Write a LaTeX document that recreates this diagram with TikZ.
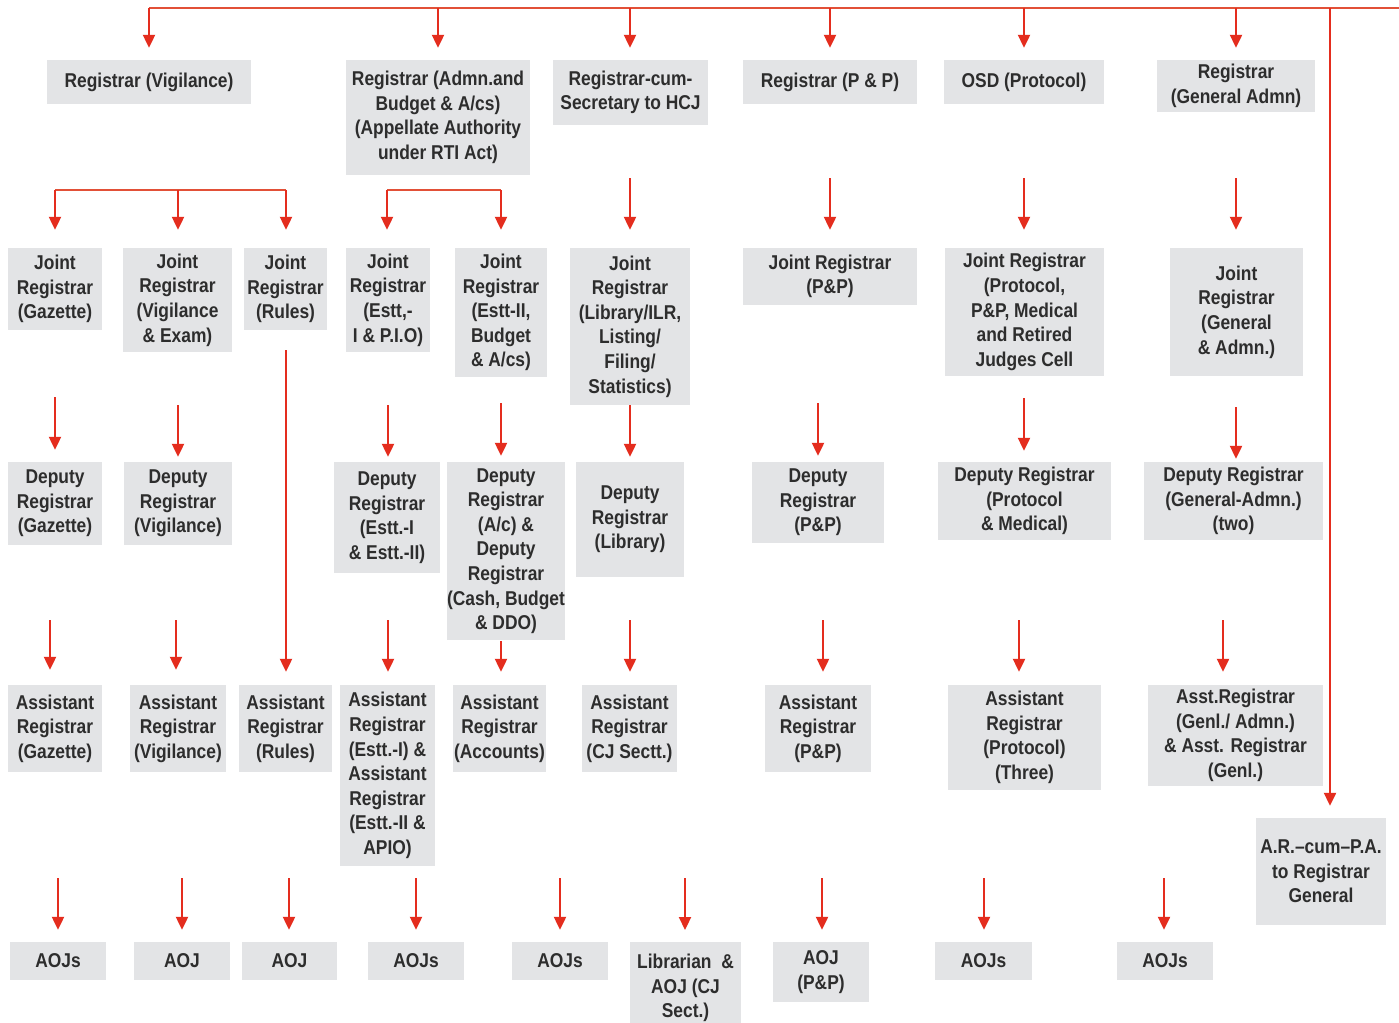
\documentclass[tikz,border=0pt]{standalone}
\usepackage{fontspec}
\setmainfont{Liberation Sans}[FakeStretch=0.87]
\usetikzlibrary{arrows.meta}
\definecolor{ared}{RGB}{228,45,30}
\definecolor{lred}{RGB}{226,80,55}
\definecolor{boxg}{RGB}{227,228,230}
\definecolor{txt}{RGB}{45,45,45}
\newcommand\bx[6]{\node[box, minimum width={#4-#2}, minimum height={#5-#3}] (#1) at ({(#2+#4)/2},{(#3+#5)/2}) {#6};}
% arrow at x=#1 starting at y=#2, ending #4pt above node #3
\newcommand\dn[4]{\draw[arr] (#1,#2) -- ([yshift=#4pt]#3.north -| #1,0);}
\begin{document}
\begin{tikzpicture}[x=1pt,y=-1pt,
 box/.style={fill=boxg, inner sep=0pt, align=center, text=txt, font=\fontsize{20}{24.6}\selectfont\bfseries},
 arr/.style={ared, line width=2.2pt, -{Triangle[width=12pt,length=13pt]}},
 bar/.style={lred, line width=2.2pt}]
\useasboundingbox (0,0) rectangle (1399,1022);
\fill[white] (0,0) rectangle (1399,1022);

% Row 1
\bx{vig}{47}{60}{251}{104}{Registrar (Vigilance)}
\bx{adm}{346}{60}{530}{175}{Registrar (Admn.and\\Budget \& A/cs)\\(Appellate Authority\\under RTI Act)}
\bx{hcj}{553}{60}{708}{125}{Registrar-cum-\\Secretary to HCJ}
\bx{pp}{743}{60}{917}{104}{Registrar (P \& P)}
\bx{osd}{944}{60}{1104}{104}{OSD (Protocol)}
\bx{gen}{1157}{60}{1315}{112}{Registrar\\(General Admn)}

% Row 2
\bx{jg}{8}{248}{102}{330}{Joint\\Registrar\\(Gazette)}
\bx{jv}{123}{248}{232}{352}{Joint\\Registrar\\(Vigilance\\\& Exam)}
\bx{jr}{244}{248}{327}{330}{Joint\\Registrar\\(Rules)}
\bx{je}{346}{248}{430}{352}{Joint\\Registrar\\(Estt,-\\I \& P.I.O)}
\bx{jb}{455}{248}{547}{377}{Joint\\Registrar\\(Estt-II,\\Budget\\\& A/cs)}
\bx{jl}{570}{248}{690}{405}{Joint\\Registrar\\(Library/ILR,\\Listing/\\Filing/\\Statistics)}
\bx{jpp}{743}{248}{917}{305}{Joint Registrar\\(P\&P)}
\bx{jpr}{945}{248}{1104}{376}{Joint Registrar\\(Protocol,\\P\&P, Medical\\and Retired\\Judges Cell}
\bx{jga}{1170}{248}{1303}{376}{Joint\\Registrar\\(General\\\& Admn.)}

% Row 3
\bx{dg}{8}{462}{102}{545}{Deputy\\Registrar\\(Gazette)}
\bx{dv}{124}{462}{232}{545}{Deputy\\Registrar\\(Vigilance)}
\bx{de}{334}{462}{440}{573}{Deputy\\Registrar\\(Estt.-I\\\& Estt.-II)}
\bx{dac}{447}{462}{565}{640}{Deputy\\Registrar\\(A/c) \&\\Deputy\\Registrar\\(Cash, Budget\\\& DDO)}
\bx{dl}{576}{462}{684}{577}{Deputy\\Registrar\\(Library)}
\bx{dpp}{752}{462}{884}{543}{Deputy\\Registrar\\(P\&P)}
\bx{dpr}{938}{462}{1111}{540}{Deputy Registrar\\(Protocol\\\& Medical)}
\bx{dga}{1144}{462}{1323}{540}{Deputy Registrar\\(General-Admn.)\\(two)}

% Row 4
\bx{ag}{8}{685}{102}{772}{Assistant\\Registrar\\(Gazette)}
\bx{av}{130}{685}{226}{772}{Assistant\\Registrar\\(Vigilance)}
\bx{ar}{239}{685}{332}{772}{Assistant\\Registrar\\(Rules)}
\bx{ae}{340}{685}{435}{866}{Assistant\\Registrar\\(Estt.-I) \&\\Assistant\\Registrar\\(Estt.-II \&\\APIO)}
\bx{aac}{453}{685}{546}{772}{Assistant\\Registrar\\(Accounts)}
\bx{acj}{582}{685}{677}{772}{Assistant\\Registrar\\(CJ Sectt.)}
\bx{app}{765}{685}{871}{772}{Assistant\\Registrar\\(P\&P)}
\bx{apr}{948}{685}{1101}{790}{Assistant\\Registrar\\(Protocol)\\(Three)}
\bx{aga}{1148}{685}{1323}{786}{Asst.Registrar\\(Genl./ Admn.)\\\& Asst. Registrar\\(Genl.)}
\bx{arpa}{1256}{818}{1386}{925}{A.R.–cum–P.A.\\to Registrar\\General}

% Row 5
\bx{o1}{10}{942}{106}{980}{AOJs}
\bx{o2}{134}{942}{230}{980}{AOJ}
\bx{o3}{242}{942}{337}{980}{AOJ}
\bx{o4}{368}{942}{464}{980}{AOJs}
\bx{o5}{512}{942}{608}{980}{AOJs}
\node[box, minimum width=111, minimum height=88, anchor=north] (lib) at (685.5,942) {\raisebox{0pt}[18pt][0pt]{}Librarian\ \ \&\\AOJ (CJ\\Sect.)};
\bx{o7}{773}{942}{869}{1002}{AOJ\\(P\&P)}
\bx{o8}{935}{942}{1032}{980}{AOJs}
\bx{o9}{1117}{942}{1213}{980}{AOJs}

% Top bar and row-1 arrows
\draw[bar] (149,8) -- (1399,8);
\dn{149}{8}{vig}{12}
\dn{438}{8}{adm}{12}
\dn{630}{8}{hcj}{12}
\dn{830}{8}{pp}{12}
\dn{1024}{8}{osd}{12}
\dn{1236}{8}{gen}{12}
\draw[arr] (1330,8) -- ([yshift=12pt]arpa.north -| 1330,0);

% Row 2 arrows
\draw[bar] (55,190) -- (286,190);
\dn{55}{190}{jg}{18}
\dn{178}{190}{jv}{18}
\dn{286}{190}{jr}{18}
\draw[bar] (387,190) -- (501,190);
\dn{387}{190}{je}{18}
\dn{501}{190}{jb}{18}
\dn{630}{178}{jl}{18}
\dn{830}{178}{jpp}{18}
\dn{1024}{178}{jpr}{18}
\dn{1236}{178}{jga}{18}

% Row 3 arrows
\dn{55}{397}{dg}{12}
\dn{178}{405}{dv}{5}
\dn{286}{350}{ar}{13}
\dn{388}{405}{de}{5}
\dn{501}{403}{dac}{6}
\dn{630}{405}{dl}{5}
\dn{818}{403}{dpp}{6}
\dn{1024}{398}{dpr}{11}
\dn{1236}{407}{dga}{3}

% Row 4 arrows
\dn{50}{620}{ag}{15}
\dn{176}{620}{av}{15}
\dn{388}{620}{ae}{13}
\dn{501}{641}{aac}{13}
\dn{630}{620}{acj}{13}
\dn{823}{620}{app}{13}
\dn{1019}{620}{apr}{13}
\dn{1223}{620}{aga}{13}

% Row 5 arrows
\dn{58}{878}{o1}{12}
\dn{182}{878}{o2}{12}
\dn{289}{878}{o3}{12}
\dn{416}{878}{o4}{12}
\dn{560}{878}{o5}{12}
\dn{685}{878}{lib}{12}
\dn{822}{878}{o7}{12}
\dn{984}{878}{o8}{12}
\dn{1164}{878}{o9}{12}
\end{tikzpicture}
\end{document}
